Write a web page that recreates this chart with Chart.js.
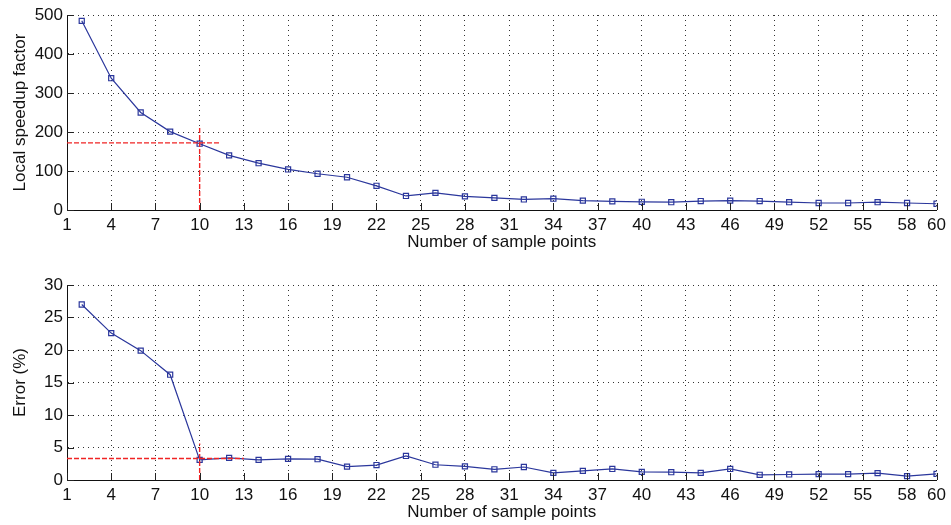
<!DOCTYPE html>
<html>
<head>
<meta charset="utf-8">
<script src="https://cdn.jsdelivr.net/npm/chart.js@4.4.1/dist/chart.umd.min.js"></script>
<style>
    html, body { margin: 0; padding: 0; background: #fff; }
    .painel { position: absolute; left: 0; width: 951px; }
    #painel-speedup { top: 0; height: 262px; }
    #painel-erro { top: 262px; height: 263px; }
</style>
</head>
<body>
<div class="painel" id="painel-speedup"><canvas id="grafico-speedup" width="951" height="262"></canvas></div>
<div class="painel" id="painel-erro"><canvas id="grafico-erro" width="951" height="263"></canvas></div>
<script>
// Number of sample points (x) used in both plots
const amostras = [2, 4, 6, 8, 10, 12, 14, 16, 18, 20, 22, 24, 26, 28, 30,
    32, 34, 36, 38, 40, 42, 44, 46, 48, 50, 52, 54, 56, 58, 60];

const speedup = [485, 338, 250, 201, 170, 140, 120, 104, 93, 84, 62, 36, 44, 35, 31,
    27, 29, 24, 22, 21, 20, 23, 24, 23, 20, 18, 18, 20, 18, 16];

const erro = [27.0, 22.6, 19.9, 16.2, 3.1, 3.4, 3.1, 3.25, 3.2, 2.05, 2.3, 3.7, 2.35, 2.1, 1.65,
    2.0, 1.1, 1.4, 1.7, 1.25, 1.2, 1.1, 1.7, 0.8, 0.85, 0.9, 0.9, 1.05, 0.6, 0.95];

const ticksX = [1, 4, 7, 10, 13, 16, 19, 22, 25, 28, 31, 34, 37, 40, 43, 46, 49, 52, 55, 58, 60];
const ticksSpeedup = [0, 100, 200, 300, 400, 500];
const ticksErro = [0, 5, 10, 15, 20, 25, 30];

// Chosen operating point (10 samples) and the marker line extents
const pontoEscolhido = 10;
const speedupRef = { y: 172, xFim: 11.4, yTopo: 210 };
const erroRef = { y: 3.3, xFim: 13, yTopo: 5.6 };

const FONTE = { family: "'Liberation Sans', Arial, Helvetica, sans-serif", size: 17 };
const AZUL = '#2b379c';
const VERMELHO = '#f02424';

// Inward tick marks on the left and bottom axes (MATLAB look)
const ticksInternos = {
    id: 'ticksInternos',
    afterDatasetsDraw(chart) {
        const { ctx, chartArea, scales } = chart;
        ctx.save();
        ctx.strokeStyle = '#222';
        ctx.lineWidth = 1;
        ctx.beginPath();
        scales.x.ticks.forEach(t => {
            const px = Math.round(scales.x.getPixelForValue(t.value)) + 0.5;
            ctx.moveTo(px, chartArea.bottom);
            ctx.lineTo(px, chartArea.bottom - 7);
        });
        scales.y.ticks.forEach(t => {
            const py = Math.round(scales.y.getPixelForValue(t.value)) + 0.5;
            ctx.moveTo(chartArea.left, py);
            ctx.lineTo(chartArea.left + 7, py);
        });
        ctx.stroke();
        ctx.restore();
    }
};

function criarGrafico(id, valores, ticksY, maxY, titulo, ref, alturaX, padTopo, padTitulo) {
    const ctx = document.getElementById(id).getContext('2d');
    return new Chart(ctx, {
        type: 'line',
        data: {
            datasets: [
                {
                    data: amostras.map((x, i) => ({ x: x, y: valores[i] })),
                    borderColor: AZUL,
                    borderWidth: 1.2,
                    pointStyle: 'rect',
                    pointRadius: 3.6,
                    pointBorderWidth: 1.2,
                    pointBorderColor: AZUL,
                    pointBackgroundColor: 'rgba(0,0,0,0)',
                    tension: 0,
                    order: 2
                },
                {
                    // horizontal reference
                    data: [{ x: 1, y: ref.y }, { x: ref.xFim, y: ref.y }],
                    borderColor: VERMELHO,
                    borderWidth: 1.4,
                    borderDash: [5, 2],
                    pointRadius: 0,
                    order: 1
                },
                {
                    // vertical reference
                    data: [{ x: pontoEscolhido, y: 0 }, { x: pontoEscolhido, y: ref.yTopo }],
                    borderColor: VERMELHO,
                    borderWidth: 1.4,
                    borderDash: [5, 2],
                    pointRadius: 0,
                    order: 1
                }
            ]
        },
        options: {
            responsive: false,
            animation: false,
            layout: { padding: { top: padTopo, right: 12, left: 0, bottom: 0 } },
            plugins: { legend: { display: false }, tooltip: { enabled: false } },
            scales: {
                x: {
                    type: 'linear',
                    min: 1,
                    max: 60,
                    afterBuildTicks: s => { s.ticks = ticksX.map(v => ({ value: v })); },
                    afterFit: s => { s.height = alturaX; },
                    ticks: { font: FONTE, color: '#111', padding: 5, maxRotation: 0, autoSkip: false },
                    grid: { color: '#333', lineWidth: 1, drawTicks: false },
                    border: { display: true, color: '#111', width: 1, dash: [1, 4] },
                    title: {
                        display: true,
                        text: 'Number of sample points',
                        font: FONTE,
                        color: '#111',
                        padding: { top: 0, bottom: padTitulo }
                    }
                },
                y: {
                    type: 'linear',
                    min: 0,
                    max: maxY,
                    afterBuildTicks: s => { s.ticks = ticksY.map(v => ({ value: v })); },
                    afterFit: s => { s.width = 67; },
                    ticks: { font: FONTE, color: '#111', padding: 4 },
                    grid: { color: '#333', lineWidth: 1, drawTicks: false },
                    border: { display: true, color: '#111', width: 1, dash: [1, 4] },
                    title: {
                        display: true,
                        text: titulo,
                        font: FONTE,
                        color: '#111',
                        padding: { top: 10, bottom: 0 }
                    }
                }
            }
        },
        plugins: [ticksInternos]
    });
}

criarGrafico('grafico-speedup', speedup, ticksSpeedup, 500, 'Local speedup factor', speedupRef, 52, 15, 9);
criarGrafico('grafico-erro', erro, ticksErro, 30, 'Error (%)', erroRef, 45, 23, 2);
</script>
</body>
</html>
